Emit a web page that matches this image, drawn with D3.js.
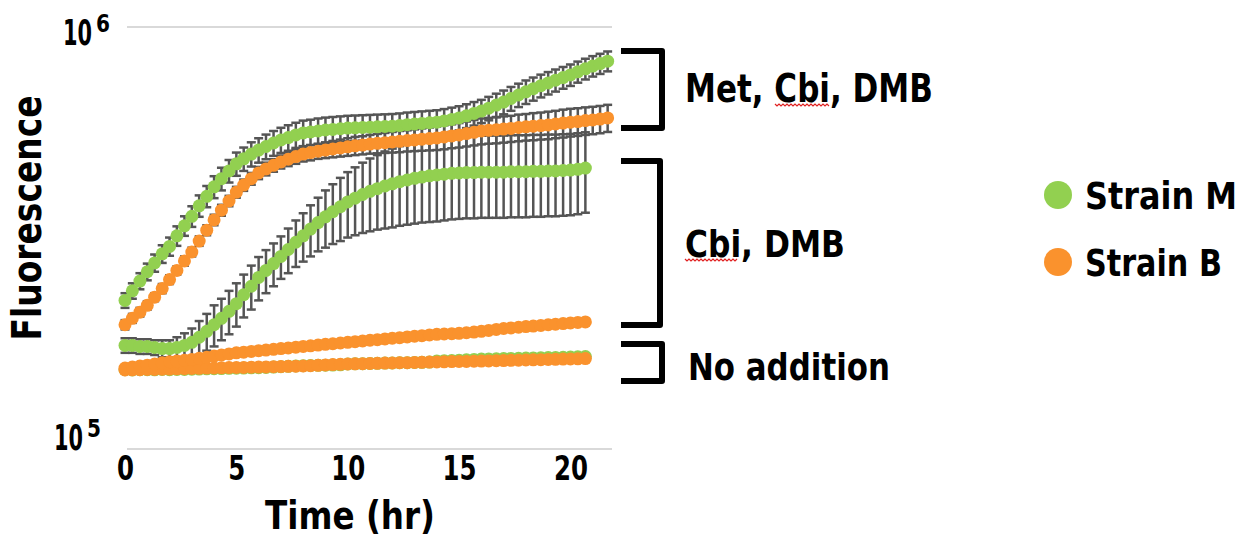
<!DOCTYPE html>
<html>
<head>
<meta charset="utf-8">
<script src="https://cdn.jsdelivr.net/npm/d3@7"></script>
<style>
  body { margin: 0; background: #fff; }
  text { font-family: "DejaVu Sans", sans-serif; font-weight: 700; fill: #000; }
</style>
</head>
<body>
<div id="chart"></div>
<script>
// readings every 20 min (hr)
const timeMet = [0,0.33,0.67,1,1.33,1.67,2,2.33,2.67,3,3.33,3.67,4,4.33,4.67,5,5.33,5.67,6,6.33,6.67,7,7.33,7.67,8,8.33,8.67,9,9.33,9.67,10,10.33,10.67,11,11.33,11.67,12,12.33,12.67,13,13.33,13.67,14,14.33,14.67,15,15.33,15.67,16,16.33,16.67,17,17.33,17.67,18,18.33,18.67,19,19.33,19.67,20,20.33,20.67,21,21.33,21.67];
const timeOther = timeMet.slice(0, 63);

// fluorescence, in thousands
const metM = [225,237,250,263,276,290,302,320,338,356,377,397,418,437,456,474,487,500,511,521,531,540,547,555,561,564,567,570,572,574,576,577,578,579,580,581,582,584,587,589,591,593,595,599,604,609,616,624,632,642,653,664,677,690,702,714,726,737,748,759,770,783,796,808,819,830];
const errMetM = [9,10,11,12,13,14,15,17,18,20,22,23,25,27,28,30,31,33,34,35,36,37,38,38,39,39,40,40,40,40,40,40,40,40,40,40,40,40,40,40,40,40,40,40,40,40,40,40,40,41,42,43,44,44,45,45,45,45,45,45,45,45,45,45,45,45];
const metB = [197,204,211,219,229,240,252,265,279,293,311,330,349,368,387,406,422,437,451,461,470,479,486,493,500,504,508,511,514,517,520,523,525,528,530,532,534,536,538,540,542,544,546,549,552,555,559,563,567,569,571,573,575,578,580,582,584,586,589,592,595,597,600,602,605,609];
const errMetB = [5,5,5,5,5,6,6,6,7,7,8,9,10,11,11,12,13,14,15,16,16,17,18,19,20,21,21,22,23,24,25,26,26,27,28,29,30,31,31,32,33,34,35,36,36,37,38,39,40,40,41,41,41,42,42,43,43,44,44,45,45,45,45,45,45,45];
const cbiM = [176,176,175,175,174,173,173,174,176,179,184,190,197,204,212,221,232,243,255,265,275,286,297,309,320,332,344,355,365,375,385,393,401,408,414,420,425,430,434,438,441,444,446,448,450,451,452,452,453,453,453,453,454,454,454,455,455,456,456,457,458,460,463];
const errCbiM = [7,7,7,7,7,8,8,10,12,14,17,19,22,23,25,26,27,29,30,31,32,33,36,39,42,46,50,55,59,64,68,72,76,80,83,87,90,92,94,96,97,99,100,100,100,100,100,100,100,100,100,100,100,100,100,100,100,100,100,100,100,100,100];
const cbiB = [155.6,156.4,157.2,158,159,160,161,161.6,162.3,163,164,165,166,167,168,169,169.6,170.3,171,171.6,172.3,173,173.6,174.3,175,175.6,176.3,177,177.6,178.3,179,179.6,180.3,181,181.6,182.3,183,183.6,184.3,185,185.6,186.3,187,187.3,187.6,188,188.6,189.3,190,191,192,193,193.6,194.3,195,195.6,196.3,197,197.6,198.3,199,199.5,200];
const noneM = [154.1,153.9,154.2,154.1,154.0,154.3,154.1,154.3,154.4,154.6,154.7,154.9,155.0,155.1,155.3,155.4,155.5,155.7,155.8,156.1,156.4,156.7,157.0,157.3,157.6,157.7,157.9,158.0,158.1,158.3,159.0,159.2,159.3,159.5,159.6,159.8,159.9,160.1,160.2,160.4,160.5,160.7,161.6,161.9,162.1,162.4,162.7,163.0,163.3,163.5,163.6,163.8,163.9,164.1,164.2,164.4,164.5,164.7,164.8,165.0,165.1,165.4,165.6];
const noneB = [153.9,154.0,154.2,154.3,154.4,154.6,154.7,154.9,155.0,155.2,155.3,155.5,155.6,155.7,155.9,156.0,156.1,156.3,156.4,156.5,156.7,156.8,157.0,157.1,157.3,157.6,157.9,158.2,158.5,158.7,159.0,159.2,159.3,159.5,159.6,159.8,159.9,160.1,160.2,160.4,160.5,160.7,160.8,160.9,161.1,161.2,161.3,161.5,161.6,161.7,161.9,162.0,162.2,162.3,162.5,162.7,162.8,163.0,163.1,163.3,163.4,163.6,163.8];

const xTicks = [0, 5, 10, 15, 20];
const yTicks = [1e5, 1e6];
const legendNames = ["Strain M", "Strain B"];

const GREEN = "#92d050", ORANGE = "#fa922d", BAR = "#555555";

const W = 1244, H = 540;
const svg = d3.select("#chart").append("svg")
    .attr("width", W)
    .attr("height", H);

const x = d3.scaleLinear().domain([0, 22]).range([125, 615]);
const y = d3.scaleLog().domain([1e5, 1e6]).range([449, 27]);

// squeeze a text horizontally to a given width (the source picture is narrowed)
function squeeze(sel, width, pre) {
  sel.each(function(d, i) {
    const w = this.getComputedTextLength();
    const target = typeof width === "function" ? width(d, i) : width;
    d3.select(this).attr("transform", `${pre || ""} scale(${target / w},1)`);
  });
}

// gridlines
svg.selectAll(".grid")
  .data(yTicks)
  .join("line")
    .attr("x1", 127).attr("x2", 612)
    .attr("y1", d => y(d)).attr("y2", d => y(d))
    .attr("stroke", "#d9d9d9")
    .attr("stroke-width", 2);

// y labels, 10 with superscript exponent
const ylab = svg.selectAll(".ylab")
  .data(yTicks)
  .join("g")
    .attr("transform", d => `translate(${d === 1e6 ? 92 : 83},${y(d) + (d === 1e6 ? 18 : 1)})`);
ylab.append("text")
    .attr("text-anchor", "end")
    .style("font-size", "35px")
    .text("10")
    .call(squeeze, 29);
ylab.append("text")
    .style("font-size", "25px")
    .text(d => Math.round(Math.log10(d)))
    .call(squeeze, 14, "translate(4,-13)");

// x axis
const xAxis = svg.append("g")
    .attr("transform", `translate(0,${y(1e5)})`)
    .call(d3.axisBottom(x).tickValues(xTicks).tickSize(0).tickPadding(8));
xAxis.select(".domain").remove();
xAxis.selectAll("text")
    .style("font-size", "33px")
    .style("font-family", "DejaVu Sans")
    .style("font-weight", 700)
    .attr("fill", "#000")
    .call(squeeze, d => String(d).length * 17);

svg.append("text")
    .attr("text-anchor", "middle")
    .style("font-size", "39px")
    .text("Time (hr)")
    .call(squeeze, 170, "translate(350,529)");

svg.append("text")
    .attr("text-anchor", "middle")
    .style("font-size", "40px")
    .text("Fluorescence")
    .call(squeeze, 245, "translate(41,218) rotate(-90)");

const series = [
  {t: timeOther, v: noneM, err: null, color: GREEN},
  {t: timeOther, v: cbiM, err: errCbiM, color: GREEN},
  {t: timeMet, v: metM, err: errMetM, color: GREEN},
  {t: timeOther, v: noneB, err: null, color: ORANGE},
  {t: timeOther, v: cbiB, err: null, color: ORANGE},
  {t: timeMet, v: metB, err: errMetB, color: ORANGE}
];

// error bars under all the dots
series.filter(s => s.err).forEach(s => {
  const pts = s.t.map((t, i) => ({t: t, lo: (s.v[i] - s.err[i]) * 1000, hi: (s.v[i] + s.err[i]) * 1000}));
  const g = svg.append("g").attr("stroke", BAR).attr("stroke-width", 2.5);
  g.selectAll(".bar").data(pts).join("line")
      .attr("x1", d => x(d.t)).attr("x2", d => x(d.t))
      .attr("y1", d => y(d.lo)).attr("y2", d => y(d.hi));
  g.selectAll(".capHi").data(pts).join("line")
      .attr("x1", d => x(d.t) - 4.5).attr("x2", d => x(d.t) + 4.5)
      .attr("y1", d => y(d.hi)).attr("y2", d => y(d.hi));
  g.selectAll(".capLo").data(pts).join("line")
      .attr("x1", d => x(d.t) - 4.5).attr("x2", d => x(d.t) + 4.5)
      .attr("y1", d => y(d.lo)).attr("y2", d => y(d.lo));
});

series.forEach(s => {
  svg.append("g").selectAll("circle")
    .data(s.t.map((t, i) => ({t: t, v: s.v[i] * 1000})))
    .join("circle")
      .attr("cx", d => x(d.t))
      .attr("cy", d => y(d.v))
      .attr("r", 6.5)
      .attr("fill", s.color);
});

// brackets and condition labels
const brackets = svg.append("g")
    .attr("fill", "none").attr("stroke", "#000")
    .attr("stroke-width", 6).attr("stroke-linejoin", "round");
brackets.append("path").attr("d", "M621,51H662V128H621");
brackets.append("path").attr("d", "M621,161H660V325H621");
brackets.append("path").attr("d", "M621,344H662V381H621");

svg.append("text").style("font-size", "39px").text("Met, Cbi, DMB")
    .call(squeeze, 248, "translate(685,102)");
svg.append("text").style("font-size", "37px").text("Cbi, DMB")
    .call(squeeze, 160, "translate(685,257)");
svg.append("text").style("font-size", "37px").text("No addition")
    .call(squeeze, 202, "translate(688,380)");

// spell-check squiggles under "Cbi"
function squiggle(x0, x1, yy) {
  let d = `M${x0},${yy}`;
  for (let xx = x0 + 2, k = 0; xx <= x1; xx += 2, k++) d += `L${xx},${yy + (k % 2 ? 0 : 2)}`;
  return d;
}
svg.append("path").attr("d", squiggle(775, 830, 104)).attr("fill", "none").attr("stroke", "#e02020").attr("stroke-width", 1.2);
svg.append("path").attr("d", squiggle(685, 738, 259)).attr("fill", "none").attr("stroke", "#e02020").attr("stroke-width", 1.2);

// legend
const legend = svg.selectAll(".legend")
  .data(legendNames)
  .join("g")
    .attr("transform", (d, i) => `translate(1058,${195 + i * 67})`);
legend.append("circle").attr("r", 14).attr("fill", (d, i) => i ? ORANGE : GREEN);
legend.append("text")
    .style("font-size", "37px")
    .text(d => d)
    .call(squeeze, (d, i) => i ? 137 : 152, "translate(27,14)");
</script>
</body>
</html>
